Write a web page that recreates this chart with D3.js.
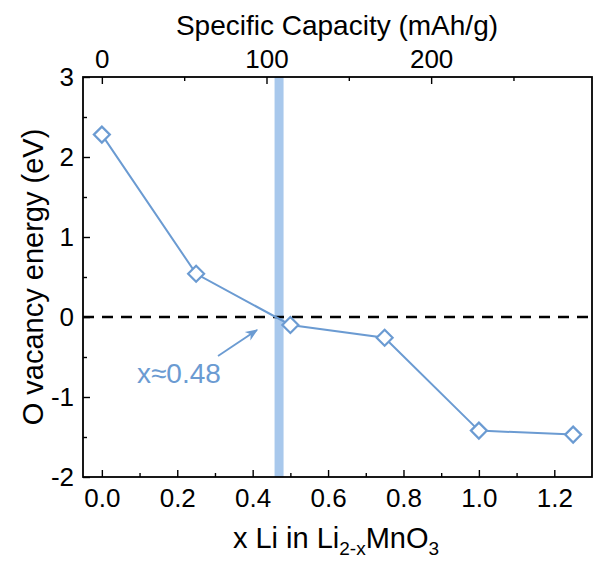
<!DOCTYPE html>
<html><head><meta charset="utf-8">
<script src="https://cdn.jsdelivr.net/npm/d3@7"></script>
<style>body{margin:0;background:#fff}text{font-family:"Liberation Sans",Arial,sans-serif}</style>
</head><body>
<svg id="c" width="597" height="563"></svg>
<script>
const xLi = [0, 0.25, 0.5, 0.75, 1.0, 1.25];
const energy = [2.28, 0.54, -0.10, -0.26, -1.42, -1.47];
const xTicks = [0, 0.2, 0.4, 0.6, 0.8, 1.0, 1.2];
const yTicks = [-2, -1, 0, 1, 2, 3];
const capTicks = [0, 100, 200];
const capPerLi = 229;
const crossX = 0.47;
const annot = "x≈0.48";

const svg = d3.select("#c");
const L = 83, R = 592, T = 77, B = 477;
const blue = "#6b9bd2";
const x = d3.scaleLinear().domain([-0.05, 1.3]).range([L, R]);
const y = d3.scaleLinear().domain([-2, 3]).range([B, T]);
const xc = d3.scaleLinear().domain([-0.05 * capPerLi, 1.3 * capPerLi]).range([L, R]);

// highlight band
svg.append("rect").attr("x", x(crossX) - 4.5).attr("y", T).attr("width", 9).attr("height", B - T).attr("fill", "#a8c8ec");

// zero dashed line
svg.append("line").attr("x1", L).attr("x2", R).attr("y1", y(0)).attr("y2", y(0))
  .attr("stroke", "#000").attr("stroke-width", 2.5).attr("stroke-dasharray", "11,8");

// axes
const fs = 26;
const gBottom = svg.append("g").attr("transform", `translate(0,${B})`)
  .call(d3.axisBottom(x).tickValues(xTicks).tickFormat(d3.format(".1f")).tickSizeInner(-7).tickSizeOuter(0).tickPadding(12));
const gBottomMinor = svg.append("g").attr("transform", `translate(0,${B})`)
  .call(d3.axisBottom(x).tickValues(d3.range(0.1, 1.3, 0.2)).tickFormat("").tickSizeInner(-4).tickSizeOuter(0));
const gLeft = svg.append("g").attr("transform", `translate(${L},0)`)
  .call(d3.axisLeft(y).tickValues(yTicks).tickFormat(d3.format("d")).tickSizeInner(-7).tickSizeOuter(0).tickPadding(9));
const gLeftMinor = svg.append("g").attr("transform", `translate(${L},0)`)
  .call(d3.axisLeft(y).tickValues(d3.range(-1.5, 3, 1)).tickFormat("").tickSizeInner(-4).tickSizeOuter(0));
const gTop = svg.append("g").attr("transform", `translate(0,${T})`)
  .call(d3.axisTop(xc).tickValues(capTicks).tickFormat(d3.format("d")).tickSizeInner(-7).tickSizeOuter(0).tickPadding(9));
const gTopMinor = svg.append("g").attr("transform", `translate(0,${T})`)
  .call(d3.axisTop(xc).tickValues([50, 150, 250]).tickFormat("").tickSizeInner(-4).tickSizeOuter(0));
[gBottom, gBottomMinor, gLeft, gLeftMinor, gTop, gTopMinor].forEach(g => {
  g.select(".domain").remove();
  g.selectAll("line").attr("stroke", "#000").attr("stroke-width", 1.4);
  g.selectAll("text").attr("font-size", fs).attr("fill", "#000").style("font-family", '"Liberation Sans",Arial,sans-serif');
});
gLeft.selectAll("text").text(d => d < 0 ? "-" + Math.abs(d) : d);

// frame
svg.append("rect").attr("x", L).attr("y", T).attr("width", R - L).attr("height", B - T)
  .attr("fill", "none").attr("stroke", "#000").attr("stroke-width", 1.8);

// data line
const pts = xLi.map((v, i) => [v, energy[i]]);
svg.append("path").datum(pts).attr("fill", "none").attr("stroke", blue).attr("stroke-width", 2)
  .attr("d", d3.line().x(d => x(d[0])).y(d => y(d[1])));
svg.selectAll(".m").data(pts).enter().append("path")
  .attr("transform", d => `translate(${x(d[0])},${y(d[1])})`)
  .attr("d", "M0,-8L8,0L0,8L-8,0Z")
  .attr("fill", "#fff").attr("stroke", blue).attr("stroke-width", 2.2);

// annotation
svg.append("defs").append("marker").attr("id", "ah").attr("viewBox", "0 0 10 10")
  .attr("refX", 9).attr("refY", 5).attr("markerWidth", 7).attr("markerHeight", 7).attr("orient", "auto")
  .append("path").attr("d", "M0,1L10,5L0,9L3,5Z").attr("fill", blue);
svg.append("line").attr("x1", 218).attr("y1", 356).attr("x2", 257).attr("y2", 330)
  .attr("stroke", blue).attr("stroke-width", 1.8).attr("marker-end", "url(#ah)");
svg.append("text").attr("x", 137).attr("y", 383).attr("text-anchor", "start")
  .attr("font-size", 28).attr("fill", blue).text(annot);

// titles
svg.append("text").attr("x", 337).attr("y", 35).attr("text-anchor", "middle").attr("font-size", 28).text("Specific Capacity (mAh/g)");
const xt = svg.append("text").attr("x", 336).attr("y", 548).attr("text-anchor", "middle").attr("font-size", 29);
xt.append("tspan").text("x Li in Li");
xt.append("tspan").attr("font-size", 19).attr("dy", 7).text("2-x");
xt.append("tspan").attr("dy", -7).text("MnO");
xt.append("tspan").attr("font-size", 19).attr("dy", 7).text("3");
svg.append("text").attr("transform", `translate(43,${(T + B) / 2}) rotate(-90)`).attr("text-anchor", "middle")
  .attr("font-size", 29).text("O vacancy energy (eV)");
</script>
</body></html>
